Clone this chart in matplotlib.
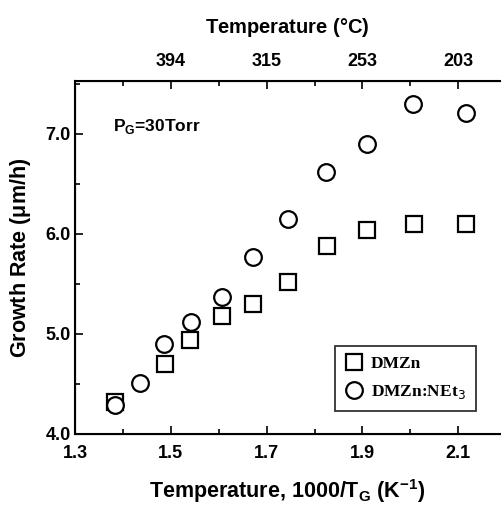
import matplotlib
matplotlib.use('Agg')
import matplotlib.pyplot as plt
from matplotlib.ticker import MultipleLocator

# growth rate vs inverse temperature
invT_dmzn = [1.384, 1.488, 1.540, 1.607, 1.672, 1.745, 1.826, 1.910, 2.008, 2.116]
rate_dmzn = [4.32, 4.70, 4.94, 5.18, 5.30, 5.52, 5.88, 6.04, 6.10, 6.10]

invT_net3 = [1.384, 1.436, 1.486, 1.542, 1.607, 1.672, 1.745, 1.824, 1.910, 2.006, 2.116]
rate_net3 = [4.29, 4.51, 4.90, 5.12, 5.37, 5.77, 6.15, 6.62, 6.90, 7.30, 7.21]

bottom_ticks = [1.3, 1.5, 1.7, 1.9, 2.1]
top_ticks = [1.5, 1.7, 1.9, 2.1]
top_labels = ['394', '315', '253', '203']
y_ticks = [4.0, 5.0, 6.0, 7.0]

sans = 'Liberation Sans'
serif = 'Liberation Serif'

fig = plt.figure(figsize=(5.01, 5.11), dpi=100)
ax = fig.add_axes([0.1497, 0.1507, 0.8483, 0.6908])

ax.plot(invT_dmzn, rate_dmzn, ls='none', marker='s', ms=11.5, mfc='white',
        mec='black', mew=1.6, label='DMZn')
ax.plot(invT_net3, rate_net3, ls='none', marker='o', ms=12, mfc='white',
        mec='black', mew=1.6, label='DMZn:NEt$_3$')

ax.set_xlim(1.3, 2.187)
ax.set_ylim(4.0, 7.53)
ax.set_xticks(bottom_ticks)
ax.set_xticklabels([f'{t:.1f}' for t in bottom_ticks])
ax.set_yticks(y_ticks)
ax.set_yticklabels([f'{t:.1f}' for t in y_ticks])
ax.xaxis.set_minor_locator(MultipleLocator(0.1))
ax.yaxis.set_minor_locator(MultipleLocator(0.5))
ax.tick_params(which='both', direction='in', width=1.2)
ax.tick_params(which='major', length=6)
ax.tick_params(which='minor', length=3.5)
ax.tick_params(axis='x', pad=8)
ax.tick_params(axis='y', pad=3)
for lab in ax.get_xticklabels() + ax.get_yticklabels():
    lab.set_fontfamily(sans)
    lab.set_fontweight('bold')
    lab.set_fontsize(13)

ax.spines['right'].set_visible(False)
for s in ['left', 'bottom', 'top']:
    ax.spines[s].set_linewidth(1.5)

ax.set_xlabel('Temperature, 1000/T$_\\mathregular{G}$ (K$^{\\mathregular{-1}}$)',
              fontfamily=sans, fontweight='bold', fontsize=15.5, labelpad=11)
ax.set_ylabel('Growth Rate ($\\mathregular{\\mu}$m/h)', fontfamily=sans,
              fontweight='bold', fontsize=15.5, labelpad=9)

top = ax.twiny()
top.set_xlim(ax.get_xlim())
top.set_xticks(top_ticks)
top.set_xticklabels(top_labels, fontfamily=sans, fontweight='bold', fontsize=13)
top.xaxis.set_minor_locator(MultipleLocator(0.1))
top.tick_params(which='both', direction='in', width=1.2, pad=8)
top.tick_params(which='major', length=6)
top.tick_params(which='minor', length=3.5)
top.spines['right'].set_visible(False)
top.set_xlabel('Temperature ($\\mathregular{\\degree}$C)', fontfamily=sans,
               fontweight='bold', fontsize=14.5, labelpad=14)

ax.text(0.09, 0.87, 'P$_\\mathregular{G}$=30Torr', transform=ax.transAxes,
        fontfamily=sans, fontweight='bold', fontsize=12.5, va='center')

leg = ax.legend(loc='lower right', bbox_to_anchor=(0.965, 0.04), frameon=True,
                fancybox=False, edgecolor='black', handletextpad=0.5,
                borderpad=0.6, labelspacing=0.6, handlelength=1.0,
                prop={'family': serif, 'weight': 'bold', 'size': 12.5})
leg.get_frame().set_linewidth(1.3)

fig.savefig('out.png', dpi=100)
